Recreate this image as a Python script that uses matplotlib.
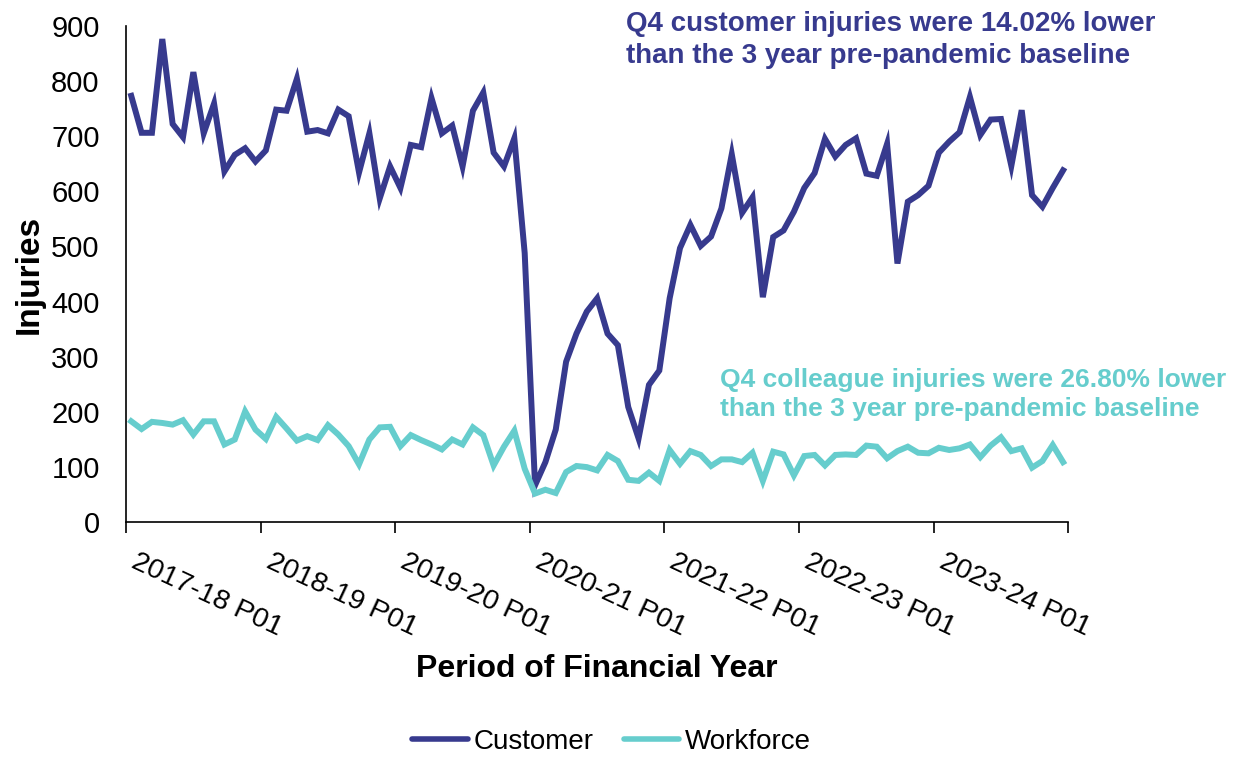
import matplotlib.pyplot as plt
from matplotlib.lines import Line2D

# Años financieros y periodos (13 periodos por año).
YEARS = ["2017-18", "2018-19", "2019-20", "2020-21", "2021-22", "2022-23", "2023-24"]
PERIODS = [f"P{p:02d}" for p in range(1, 14)]

CUSTOMER = [
    773, 706, 706, 876, 722, 698, 816, 705, 759, 636, 666, 678, 654,
    674, 748, 746, 804, 708, 711, 705, 748, 736, 634, 705, 587, 645,
    606, 684, 680, 769, 705, 719, 645, 746, 779, 670, 645, 696, 488,
    67, 109, 168, 291, 342, 382, 406, 342, 321, 209, 152, 249, 275,
    406, 497, 539, 501, 518, 569, 667, 561, 589, 408, 517, 529, 563,
    606, 633, 695, 663, 684, 696, 632, 628, 686, 469, 581, 593, 610,
    670, 690, 707, 771, 702, 730, 731, 646, 747, 593, 572, 606, 638,
]
WORKFORCE = [
    183, 169, 182, 180, 177, 185, 159, 183, 183, 141, 150, 201, 168,
    151, 191, 170, 148, 156, 149, 176, 159, 138, 105, 150, 172, 173,
    138, 158, 149, 141, 132, 150, 141, 172, 158, 103, 137, 166, 97,
    52, 59, 53, 91, 102, 100, 94, 122, 111, 77, 75, 90, 75,
    131, 106, 129, 122, 102, 114, 114, 109, 126, 75, 128, 123, 85,
    120, 122, 103, 122, 123, 122, 139, 137, 116, 129, 137, 126, 125,
    135, 131, 134, 141, 118, 139, 154, 129, 134, 99, 111, 140, 109,
]

CUSTOMER_NOTE = "Q4 customer injuries were 14.02% lower\nthan the 3 year pre-pandemic baseline"
WORKFORCE_NOTE = "Q4 colleague injuries were 26.80% lower\nthan the 3 year pre-pandemic baseline"

NAVY = "#373A8E"
TEAL = "#66CDCD"

plt.rcParams.update({
    "font.family": ["Liberation Sans", "DejaVu Sans"],
    "font.size": 20,
})


def main() -> None:
    labels = [f"{y} {p}" for y in YEARS for p in PERIODS]
    x = list(range(len(labels)))
    n_per = len(PERIODS)

    fig = plt.figure(figsize=(12.48, 7.58), dpi=100)
    ax = fig.add_axes([0.101, 0.311, 0.755, 0.655])

    ax.plot(x, CUSTOMER, color=NAVY, linewidth=4.3, solid_joinstyle="miter")
    ax.plot(x, WORKFORCE, color=TEAL, linewidth=4.3, solid_joinstyle="miter")

    ax.set_xlim(-0.5, len(labels) - 0.5)
    ax.set_ylim(0, 900)
    ax.set_yticks(range(0, 901, 100))
    ax.tick_params(axis="y", length=0, pad=19, labelsize=21)

    # Marcas entre años y etiquetas solo en P01 de cada año.
    ax.set_xticks([i - 0.5 for i in range(0, len(labels) + 1, n_per)])
    ax.set_xticklabels([])
    ax.tick_params(axis="x", which="major", length=8, width=1.2, direction="out")
    ax.set_xticks([i + 0.7 for i in range(0, len(labels), n_per)], minor=True)
    ax.set_xticklabels(labels[::n_per], minor=True)
    ax.tick_params(axis="x", which="minor", length=0, pad=19, labelsize=20.5)
    for lab in ax.get_xticklabels(minor=True):
        lab.set_rotation(-25)
        lab.set_ha("left")
        lab.set_va("top")
        lab.set_rotation_mode("anchor")

    for side in ("top", "right"):
        ax.spines[side].set_visible(False)
    for side in ("left", "bottom"):
        ax.spines[side].set_linewidth(1.2)

    ax.set_ylabel("Injuries", fontsize=24, fontweight="bold")
    ax.yaxis.set_label_coords(-0.086, 0.5)
    fig.text(0.478, 0.117, "Period of Financial Year", fontsize=23,
             fontweight="bold", ha="center", va="center")

    fig.text(0.502, 0.986, CUSTOMER_NOTE, color=NAVY, fontsize=20,
             fontweight="bold", ha="left", va="top", linespacing=1.32)
    fig.text(0.577, 0.515, WORKFORCE_NOTE, color=TEAL, fontsize=19,
             fontweight="bold", ha="left", va="top", linespacing=1.28)

    handles = [
        Line2D([], [], color=NAVY, linewidth=4, solid_capstyle="round"),
        Line2D([], [], color=TEAL, linewidth=4, solid_capstyle="round"),
    ]
    fig.legend(handles, ["Customer", "Workforce"], loc="center",
               bbox_to_anchor=(0.49, 0.021), ncol=2, frameon=False,
               fontsize=20, handlelength=2.0, handletextpad=0.2,
               columnspacing=1.1)

    fig.savefig("out.png", dpi=100)


if __name__ == "__main__":
    main()
